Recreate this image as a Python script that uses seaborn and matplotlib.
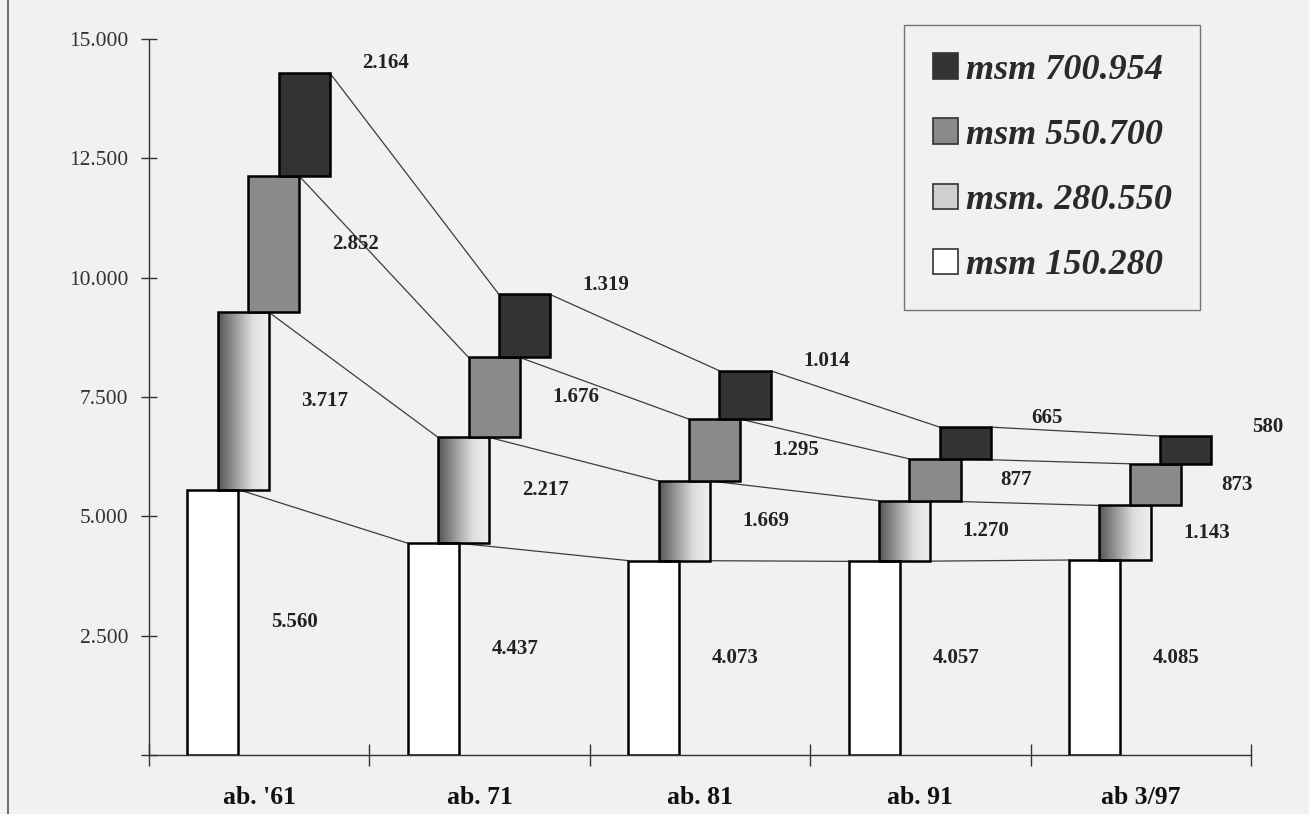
import numpy as np
import pandas as pd
import matplotlib
matplotlib.use("Agg")
import matplotlib.pyplot as plt
import seaborn as sns
from matplotlib.colors import LinearSegmentedColormap
from matplotlib.patches import Patch
from matplotlib.lines import Line2D

# data
periods = ["ab. '61", "ab. 71", "ab. 81", "ab. 91", "ab 3/97"]
bands = ["msm 150.280", "msm. 280.550", "msm 550.700", "msm 700.954"]
band_150_280 = [5560, 4437, 4073, 4057, 4085]
band_280_550 = [3717, 2217, 1669, 1270, 1143]
band_550_700 = [2852, 1676, 1295, 877, 873]
band_700_954 = [2164, 1319, 1014, 665, 580]
y_ticks = [0, 2500, 5000, 7500, 10000, 12500, 15000]

series = [band_150_280, band_280_550, band_550_700, band_700_954]
face = ["white", "none", "#8a8a8a", "#333333"]
legend_face = ["white", "#cfcfcf", "#8a8a8a", "#333333"]
shift = [-0.21, -0.072, 0.066, 0.204]
bar_w = 0.232
bg = "#f1f1ef"

sns.set_style("white")
plt.rcParams["font.family"] = ["Liberation Serif", "DejaVu Serif"]

fig = plt.figure(figsize=(13.09, 8.14), dpi=100, facecolor=bg)
ax = fig.add_axes([0.1138, 0.0725, 0.8419, 0.8795], facecolor=bg)

grad_cmap = LinearSegmentedColormap.from_list("g", ["#555555", "#9a9a9a", "#dedede", "#f0f0f0"])
grad = np.linspace(0, 1, 256).reshape(1, -1)

bottoms = np.zeros(len(periods))
tops = []
for k, vals in enumerate(series):
    vals = np.array(vals, dtype=float)
    xpos = np.arange(len(periods)) + shift[k]
    df = pd.DataFrame({"x": xpos, "y": vals})
    sns.barplot(data=df, x="x", y="y", native_scale=True, width=bar_w,
                bottom=bottoms, color=face[k] if face[k] != "none" else "white",
                edgecolor="black", linewidth=1.8, errorbar=None, ax=ax,
                saturation=1, zorder=3)
    cont = ax.containers[-1]
    if k == 1:
        for bar in cont:
            bar.set_facecolor("none")
            x0, y0 = bar.get_x(), bar.get_y()
            im = ax.imshow(grad, cmap=grad_cmap, aspect="auto", zorder=2.5,
                           extent=(x0, x0 + bar.get_width(), y0, y0 + bar.get_height()))
            im.set_clip_path(bar)
    top = bottoms + vals
    # value labels
    for i, v in enumerate(vals):
        lx = xpos[i] + 0.37
        ly = top[i] + 200 if k == 3 else bottoms[i] + v / 2
        ax.text(lx, ly, f"{int(v):,}".replace(",", "."), ha="center", va="center",
                fontsize=15, fontweight="bold", color="#222222", zorder=5)
    tops.append((xpos, top))
    bottoms = top

# connecting lines between same band tops
for xpos, top in tops:
    for i in range(len(periods) - 1):
        ax.plot([xpos[i] + bar_w / 2, xpos[i + 1] - bar_w / 2], [top[i], top[i + 1]],
                color="#3c3c3c", lw=0.9, zorder=1)

ax.set_xlim(-0.5, 4.5)
ax.set_ylim(0, 15000)
ax.set_xlabel("")
ax.set_ylabel("")
for s in ["top", "right"]:
    ax.spines[s].set_visible(False)
for s in ["left", "bottom"]:
    ax.spines[s].set_color("#333333")
    ax.spines[s].set_linewidth(1.0)

ax.set_yticks(y_ticks)
ax.set_yticklabels([""] + [f"{t:,}".replace(",", ".") for t in y_ticks[1:]])
ax.tick_params(axis="y", direction="inout", length=12, width=1, color="#333333",
               labelsize=15.5, pad=9, left=True, labelcolor="#333333")
ax.set_xticks(range(len(periods)))
ax.set_xticklabels(periods, fontweight="bold")
ax.tick_params(axis="x", length=0, labelsize=18.5, pad=22, labelcolor="#111111")
ax.set_xticks(np.arange(-0.5, len(periods)), minor=True)
ax.tick_params(axis="x", which="minor", direction="inout", length=16, width=1,
               color="#333333", bottom=True)

handles = [Patch(facecolor=legend_face[k], edgecolor="#333333", linewidth=1.2, label=bands[k])
           for k in [3, 2, 1, 0]]
leg = ax.legend(handles=handles, loc="upper right", bbox_to_anchor=(0.9167, 0.969),
                bbox_transform=fig.transFigure, frameon=True, fancybox=False,
                prop={"size": 26, "weight": "bold", "style": "italic"},
                handlelength=0.7, handleheight=0.7, handletextpad=0.22,
                labelspacing=0.88, borderpad=0.78, borderaxespad=0)
leg.get_frame().set_edgecolor("#555555")
leg.get_frame().set_facecolor(bg)
leg.get_frame().set_linewidth(1.0)
for t in leg.get_texts():
    t.set_color("#2a2a2a")

fig.add_artist(Line2D([0.0062, 0.0062], [0, 1], color="#555555", lw=1.2))

fig.savefig("out.png", dpi=100, facecolor=bg)
